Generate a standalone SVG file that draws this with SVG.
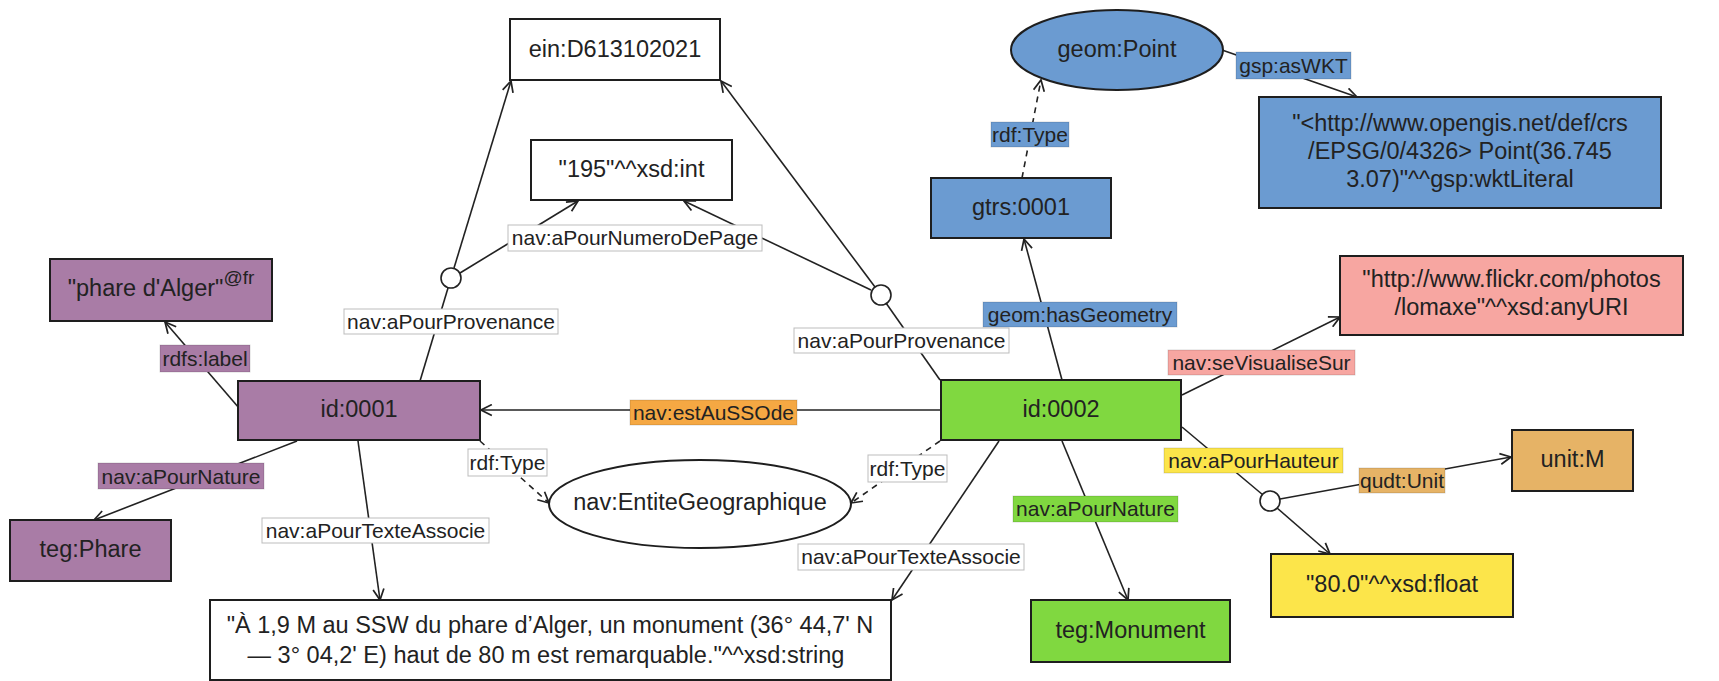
<svg xmlns="http://www.w3.org/2000/svg" width="1719" height="681" viewBox="0 0 1719 681">
<defs>
<style>
.n{stroke:#1e1e1e;stroke-width:2}
.pu{fill:#A97CA6}.gr{fill:#80D840}.bl{fill:#6B9BD1}.pk{fill:#F7A6A1}.ye{fill:#FCE54A}.or{fill:#E6B366}.wh{fill:#ffffff}
.t{font-family:"Liberation Sans",Arial,sans-serif;font-size:23.5px;fill:#222;text-anchor:middle}
.lt{font-family:"Liberation Sans",Arial,sans-serif;font-size:21px;fill:#222;text-anchor:middle}
.e{stroke:#222;stroke-width:1.6;fill:none}
.ea{stroke:#222;stroke-width:1.6;fill:none;marker-end:url(#arr)}
.d{stroke-dasharray:6 5}
.lw{fill:#ffffff;stroke:#bdbdbd;stroke-width:1}
.lc{stroke:rgba(0,0,0,0.15);stroke-width:1}
.lo{fill:#F5A843}
.c{fill:#ffffff;stroke:#222;stroke-width:1.6}
</style>
<marker id="arr" viewBox="0 0 12 12" refX="11" refY="6" markerWidth="13" markerHeight="13" markerUnits="userSpaceOnUse" orient="auto">
<path d="M1,1 L11,6 L1,11" fill="none" stroke="#222" stroke-width="1.6"/>
</marker>
</defs>
<rect width="1719" height="681" fill="#ffffff"/>

<g id="connectors">
<line class="ea" x1="239" y1="408" x2="165" y2="322"/>
<line class="ea" x1="297" y1="441" x2="94" y2="520"/>
<line class="ea" x1="358" y1="441" x2="380" y2="600"/>
<line class="e" x1="420" y1="381" x2="448" y2="288"/>
<line class="ea" x1="454" y1="268" x2="511" y2="81"/>
<line class="ea" x1="460" y1="273" x2="578" y2="201"/>
<line class="e" x1="940" y1="380" x2="886" y2="303"/>
<line class="ea" x1="875" y1="287" x2="721" y2="81"/>
<line class="ea" x1="871" y1="290" x2="684" y2="201"/>
<line class="ea" x1="941" y1="410" x2="481" y2="410"/>
<line class="ea d" x1="480" y1="441" x2="549" y2="503"/>
<line class="ea d" x1="940" y1="441" x2="851" y2="503"/>
<line class="ea" x1="999" y1="441" x2="892" y2="600"/>
<line class="ea" x1="1062" y1="441" x2="1128" y2="600"/>
<line class="ea" x1="1062" y1="380" x2="1024" y2="239"/>
<line class="ea d" x1="1022" y1="178" x2="1041" y2="80"/>
<line class="ea" x1="1222" y1="50" x2="1357" y2="97"/>
<line class="ea" x1="1182" y1="395" x2="1340" y2="317"/>
<line class="e" x1="1182" y1="427" x2="1263" y2="495"/>
<line class="ea" x1="1277" y1="508" x2="1330" y2="554"/>
<line class="ea" x1="1280" y1="499" x2="1511" y2="457"/>
<circle class="c" cx="451" cy="278" r="10"/>
<circle class="c" cx="881" cy="295" r="10"/>
<circle class="c" cx="1270" cy="501" r="10"/>

<rect class="pu lc" x="160" y="345" width="90" height="27"/>
<text class="lt" x="205" y="366">rdfs:label</text>
<rect class="pu lc" x="98" y="463" width="166" height="26"/>
<text class="lt" x="181" y="484">nav:aPourNature</text>
<rect class="lw" x="262" y="518" width="227" height="25"/>
<text class="lt" x="375.5" y="538">nav:aPourTexteAssocie</text>
<rect class="lw" x="344" y="309" width="214" height="25"/>
<text class="lt" x="451" y="329">nav:aPourProvenance</text>
<rect class="lw" x="508" y="225" width="254" height="26"/>
<text class="lt" x="635" y="245">nav:aPourNumeroDePage</text>
<rect class="lw" x="794" y="328" width="215" height="25"/>
<text class="lt" x="901.5" y="348">nav:aPourProvenance</text>
<rect class="lo lc" x="630" y="400" width="167" height="25"/>
<text class="lt" x="713.5" y="420">nav:estAuSSOde</text>
<rect class="lw" x="468" y="449" width="79" height="27"/>
<text class="lt" x="507.5" y="470">rdf:Type</text>
<rect class="lw" x="868" y="455" width="79" height="27"/>
<text class="lt" x="907.5" y="476">rdf:Type</text>
<rect class="lw" x="798" y="544" width="226" height="26"/>
<text class="lt" x="911" y="564">nav:aPourTexteAssocie</text>
<rect class="gr lc" x="1013" y="496" width="165" height="26"/>
<text class="lt" x="1095.5" y="516">nav:aPourNature</text>
<rect class="bl lc" x="983" y="302" width="194" height="25"/>
<text class="lt" x="1080" y="322">geom:hasGeometry</text>
<rect class="bl lc" x="991" y="122" width="78" height="25"/>
<text class="lt" x="1030" y="142">rdf:Type</text>
<rect class="bl lc" x="1236" y="52" width="115" height="27"/>
<text class="lt" x="1293.5" y="73">gsp:asWKT</text>
<rect class="pk lc" x="1168" y="350" width="187" height="25"/>
<text class="lt" x="1261.5" y="370">nav:seVisualiseSur</text>
<rect class="ye lc" x="1164" y="448" width="179" height="25"/>
<text class="lt" x="1253.5" y="468">nav:aPourHauteur</text>
<rect class="or lc" x="1359" y="468" width="86" height="25"/>
<text class="lt" x="1402" y="488">qudt:Unit</text>
</g>

<g id="ein"><rect class="n wh" x="510" y="19" width="210" height="61"/><text class="t" x="615" y="57">ein:D613102021</text></g>
<g id="page"><rect class="n wh" x="531" y="140" width="201" height="60"/><text class="t" x="631.5" y="177">"195"^^xsd:int</text></g>
<g id="label"><rect class="n pu" x="50" y="259" width="222" height="62"/><text class="t" x="161" y="296">"phare d'Alger"<tspan dy="-12" font-size="19">@fr</tspan></text></g>
<g id="id0001"><rect class="n pu" x="238" y="381" width="242" height="59"/><text class="t" x="359" y="417">id:0001</text></g>
<g id="phare"><rect class="n pu" x="10" y="520" width="161" height="61"/><text class="t" x="90.5" y="557">teg:Phare</text></g>
<g id="texte"><rect class="n wh" x="210" y="600" width="681" height="80"/><text class="t" x="550" y="633">"À 1,9 M au SSW du phare d’Alger, un monument (36° 44,7' N</text><text class="t" x="546" y="663">— 3° 04,2' E) haut de 80 m est remarquable."^^xsd:string</text></g>
<g id="entite"><ellipse class="n wh" cx="700" cy="504" rx="151" ry="44"/><text class="t" x="700" y="510">nav:EntiteGeographique</text></g>
<g id="id0002"><rect class="n gr" x="941" y="380" width="240" height="60"/><text class="t" x="1061" y="417">id:0002</text></g>
<g id="monument"><rect class="n gr" x="1031" y="600" width="199" height="62"/><text class="t" x="1130.5" y="638">teg:Monument</text></g>
<g id="hauteur"><rect class="n ye" x="1271" y="554" width="242" height="63"/><text class="t" x="1392" y="592">"80.0"^^xsd:float</text></g>
<g id="unit"><rect class="n or" x="1512" y="430" width="121" height="61"/><text class="t" x="1572.5" y="467">unit:M</text></g>
<g id="flickr"><rect class="n pk" x="1340" y="256" width="343" height="79"/><text class="t" x="1511.5" y="287">"http://www.flickr.com/photos</text><text class="t" x="1511.5" y="315">/lomaxe"^^xsd:anyURI</text></g>
<g id="wkt"><rect class="n bl" x="1259" y="97" width="402" height="111"/><text class="t" x="1460" y="131">"&lt;http://www.opengis.net/def/crs</text><text class="t" x="1460" y="159">/EPSG/0/4326&gt; Point(36.745</text><text class="t" x="1460" y="187">3.07)"^^gsp:wktLiteral</text></g>
<g id="point"><ellipse class="n bl" cx="1117" cy="50" rx="106" ry="40"/><text class="t" x="1117" y="57">geom:Point</text></g>
<g id="gtrs"><rect class="n bl" x="931" y="178" width="180" height="60"/><text class="t" x="1021" y="215">gtrs:0001</text></g>
</svg>
